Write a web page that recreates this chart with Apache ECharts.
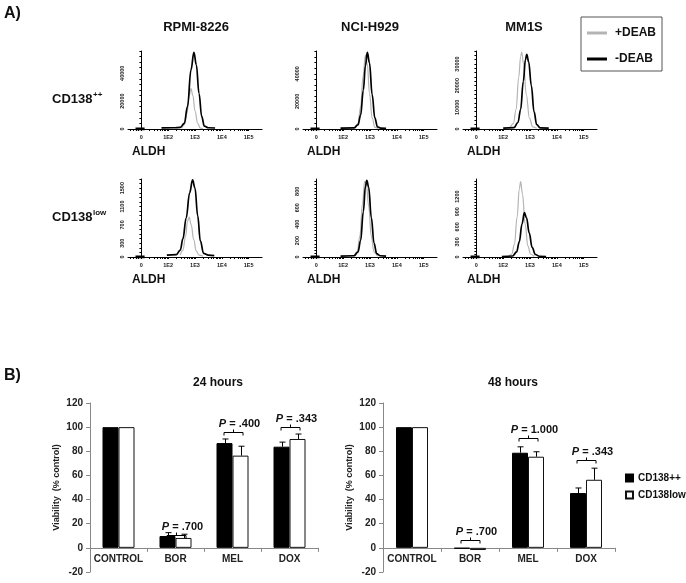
<!DOCTYPE html>
<html><head><meta charset="utf-8">
<script src="https://cdn.jsdelivr.net/npm/echarts@6/dist/echarts.min.js"></script>
<style>html,body{margin:0;padding:0;background:#fff}#c{width:686px;height:583px}</style>
</head><body><div id="c"></div>
<script>
// ---------------- Part A: ALDH histograms ----------------
const cellLines = ['RPMI-8226', 'NCI-H929', 'MM1S'];
const rowLabels = ['CD138', 'CD138'];
const rowSup = ['++', 'low'];
const xTickLabels = ['0', '1E2', '1E3', '1E4', '1E5'];   // positions 0..4 on display scale
const zeroBlip = [[-0.22, 0], [0.12, 0]];

// y tick labels per panel
const yTicks1 = [0, 20000, 40000];
const yTicks2 = [0, 20000, 40000];
const yTicks3 = [0, 10000, 20000, 30000];
const yTicks4 = [0, 300, 700, 1100, 1500];
const yTicks5 = [0, 200, 400, 600, 800];
const yTicks6 = [0, 300, 600, 900, 1200];
const yMax = [56000, 56500, 36000, 1700, 950, 1550];
const yMinorStep = [4000, 4000, 2000, 100, 40, 60];

// curves: [display position, count]; gray = +DEAB, black = -DEAB
const p1Gray = [[1.5,500],[1.6,3000],[1.7,11000],[1.78,24000],[1.85,29000],[1.92,24000],[2.0,13000],[2.1,4000],[2.2,600],[2.3,200]];
const p1Black = [[0.75,800],[1.2,900],[1.45,1200],[1.6,4000],[1.72,16000],[1.85,42500],[1.96,55000],[2.05,46000],[2.15,25500],[2.25,9000],[2.35,2000],[2.5,900],[2.75,700]];
const p2Gray = [[1.45,600],[1.55,4000],[1.65,16000],[1.74,38000],[1.83,53500],[1.9,47000],[1.98,26000],[2.08,8000],[2.18,1200],[2.3,300]];
const p2Black = [[0.9,600],[1.4,800],[1.55,3000],[1.65,10000],[1.75,28000],[1.83,46000],[1.9,55500],[1.98,48000],[2.08,25000],[2.18,8000],[2.28,1500],[2.4,700],[2.6,500]];
const p3Gray = [[1.25,400],[1.38,2500],[1.48,9000],[1.58,24000],[1.65,33500],[1.69,35500],[1.76,30000],[1.86,16000],[1.98,5000],[2.1,1000],[2.25,300]];
const p3Black = [[1.0,400],[1.4,600],[1.55,3000],[1.65,9000],[1.75,22000],[1.83,32000],[1.88,34500],[1.95,31000],[2.05,20000],[2.15,8000],[2.25,2000],[2.38,500],[2.7,400]];
const p4Gray = [[1.45,40],[1.55,150],[1.65,450],[1.72,780],[1.78,870],[1.86,700],[1.95,380],[2.05,130],[2.15,40],[2.3,20]];
const p4Black = [[0.95,40],[1.3,50],[1.45,150],[1.55,400],[1.67,850],[1.8,1400],[1.91,1680],[2.0,1500],[2.1,900],[2.2,350],[2.32,80],[2.5,40],[2.72,30]];
const p5Gray = [[1.4,10],[1.52,60],[1.62,250],[1.72,650],[1.8,920],[1.86,900],[1.95,620],[2.05,250],[2.15,60],[2.28,10]];
const p5Black = [[0.9,10],[1.4,15],[1.55,60],[1.65,200],[1.75,550],[1.83,860],[1.88,935],[1.95,850],[2.05,480],[2.15,170],[2.25,40],[2.38,15],[2.6,10]];
const p6Gray = [[1.2,10],[1.32,60],[1.42,250],[1.52,800],[1.6,1350],[1.65,1500],[1.72,1250],[1.82,650],[1.92,220],[2.02,60],[2.15,10]];
const p6Black = [[0.95,10],[1.35,20],[1.5,100],[1.6,300],[1.7,650],[1.79,880],[1.87,780],[1.97,480],[2.08,190],[2.2,50],[2.35,15],[2.6,10]];

// ---------------- Part B: viability bars ----------------
const cats = ['CONTROL', 'BOR', 'MEL', 'DOX'];
const hi24 = [100, 9.8, 86.8, 83.8];
const hi24Err = [0, 2.8, 3.4, 3.8];
const lo24 = [100, 8.2, 76.4, 90.2];
const lo24Err = [0, 3.1, 7.8, 4.1];
const hi48 = [100, -0.6, 78.8, 45.4];
const hi48Err = [0, 0, 4.9, 4.2];
const lo48 = [100, -1.8, 75.5, 56.4];
const lo48Err = [0, 0, 4.1, 9.6];
const pText24 = ['', '.700', '.400', '.343'];
const pLevel24 = [null, 10.4, 95.9, 100.5];
const pText48 = ['', '.700', '1.000', '.343'];
const pLevel48 = [null, 6.9, 90.9, 73];
const chartTitles = ['24 hours', '48 hours'];
const yBarMin = -20, yBarMax = 120;

// ---------------- build ----------------
const FONT = 'Arial, "Liberation Sans", sans-serif';
const grays = [p1Gray, p2Gray, p3Gray, p4Gray, p5Gray, p6Gray];
const blacks = [p1Black, p2Black, p3Black, p4Black, p5Black, p6Black];
const yTicks = [yTicks1, yTicks2, yTicks3, yTicks4, yTicks5, yTicks6];
const pLeft = [128, 303, 463, 128, 303, 463];
const pTop = [51, 51, 51, 179, 179, 179];

const minorX = [];
[-0.4, -0.3, -0.2, -0.1, 0, 1, 2, 3, 4].forEach(function (v) { minorX.push(v); });
for (let d = 0; d < 4; d++) for (let k = 2; k <= 9; k++) minorX.push(d + Math.log10(k));

const grid = [], xAxis = [], yAxis = [], series = [];
for (let i = 0; i < 6; i++) {
  grid.push({ left: pLeft[i], top: pTop[i], width: 134, height: 78 });
  xAxis.push({
    type: 'value', gridIndex: i, min: -0.5, max: 4.5,
    axisLine: { show: true, onZero: false, lineStyle: { color: '#000', width: 1 } },
    axisTick: { show: true, length: 2, customValues: minorX, lineStyle: { color: '#000' } },
    axisLabel: { customValues: [0, 1, 2, 3, 4], formatter: function (v) { return xTickLabels[Math.round(v)]; },
      fontSize: 5.5, fontWeight: 'bold', color: '#222', margin: 5, fontFamily: FONT },
    splitLine: { show: false }
  });
  const dense = [];
  for (let v = 0; v <= yMax[i] + 1e-9; v += yMinorStep[i]) dense.push(v);
  yAxis.push({
    type: 'value', gridIndex: i, min: 0, max: yMax[i],
    axisLine: { show: true, lineStyle: { color: '#000', width: 1 } },
    axisTick: { show: true, length: 2, customValues: dense, lineStyle: { color: '#000' } },
    axisLabel: { customValues: yTicks[i], formatter: function (v) { return String(v); }, rotate: 90,
      fontSize: 5.5, fontWeight: 'bold', color: '#222', margin: 3, fontFamily: FONT },
    splitLine: { show: false }
  });
  series.push({ type: 'line', name: '+DEAB', xAxisIndex: i, yAxisIndex: i, data: grays[i], smooth: 0.4,
    smoothMonotone: 'x', showSymbol: false, color: '#b4b4b4', lineStyle: { width: 1.2, color: '#b4b4b4' }, z: 3, silent: true });
  series.push({ type: 'line', name: '-DEAB', xAxisIndex: i, yAxisIndex: i, data: blacks[i], smooth: 0.4,
    smoothMonotone: 'x', showSymbol: false, color: '#000', lineStyle: { width: 1.7, color: '#000' }, z: 4, silent: true });
  series.push({ type: 'line', xAxisIndex: i, yAxisIndex: i, data: zeroBlip, showSymbol: false,
    lineStyle: { width: 3, color: '#000' }, z: 5, silent: true });
}

const barGrids = [{ left: 90, top: 403, width: 228, height: 169 }, { left: 383, top: 403, width: 232, height: 169 }];
const barSets = [
  { hi: hi24, hiE: hi24Err, lo: lo24, loE: lo24Err, pt: pText24, pl: pLevel24 },
  { hi: hi48, hiE: hi48Err, lo: lo48, loE: lo48Err, pt: pText48, pl: pLevel48 }
];

function errSeries(ax, vals, errs, off) {
  return {
    type: 'custom', xAxisIndex: ax, yAxisIndex: ax, z: 6, silent: true,
    data: vals.map(function (v, i) { return [i, v, errs[i]]; }),
    renderItem: function (params, api) {
      const i = api.value(0), v = api.value(1), e = api.value(2);
      if (!e) return null;
      const p0 = api.coord([i, v]), p1 = api.coord([i, v + e]);
      const x = Math.round(p0[0] + off) + 0.5;
      return { type: 'group', children: [
        { type: 'line', shape: { x1: x, y1: p0[1], x2: x, y2: p1[1] }, style: { stroke: '#000', lineWidth: 1 } },
        { type: 'line', shape: { x1: x - 3, y1: p1[1], x2: x + 3, y2: p1[1] }, style: { stroke: '#000', lineWidth: 1 } }
      ] };
    }
  };
}

function bracketSeries(ax, texts, levels) {
  const d = [];
  texts.forEach(function (t, i) { if (t) d.push([i, levels[i]]); });
  const tx = texts.filter(function (t) { return t; });
  return {
    type: 'custom', xAxisIndex: ax, yAxisIndex: ax, z: 7, silent: true, data: d,
    renderItem: function (params, api) {
      const p = api.coord([api.value(0), api.value(1)]);
      const cx = Math.round(p[0]) + 0.5, y = Math.round(p[1]) + 0.5;
      return { type: 'group', children: [
        { type: 'polyline', shape: { points: [[cx - 9.5, y + 3], [cx - 9.5, y], [cx + 9.5, y], [cx + 9.5, y + 3]] },
          style: { stroke: '#000', lineWidth: 1, fill: null } },
        { type: 'line', shape: { x1: cx, y1: y, x2: cx, y2: y - 3 }, style: { stroke: '#000', lineWidth: 1 } },
        { type: 'text', x: cx + 6, y: y - 3.5, style: {
            text: '{i|P} = ' + tx[params.dataIndex], fill: '#111', fontSize: 11, fontWeight: 'bold', fontFamily: FONT,
            align: 'center', verticalAlign: 'bottom',
            rich: { i: { fontStyle: 'italic', fontWeight: 'bold', fontSize: 11, fontFamily: FONT, fill: '#111' } } } }
      ] };
    }
  };
}

for (let b = 0; b < 2; b++) {
  const gi = 6 + b;
  grid.push(barGrids[b]);
  // category axis sits on the zero line: offset from grid bottom by the -20..0 span
  const zeroOffset = -barGrids[b].height * (0 - yBarMin) / (yBarMax - yBarMin);
  xAxis.push({
    type: 'category', gridIndex: gi, data: cats, position: 'bottom', offset: zeroOffset,
    axisLine: { show: true, onZero: false, lineStyle: { color: '#888', width: 1 } },
    axisTick: { show: true, length: 4, lineStyle: { color: '#888' } },
    axisLabel: { interval: 0, fontSize: 10, fontWeight: 'bold', color: '#222', margin: 6, fontFamily: FONT },
    splitLine: { show: false }
  });
  yAxis.push({
    type: 'value', gridIndex: gi, min: yBarMin, max: yBarMax, interval: 20,
    name: 'Viability  (% control)', nameLocation: 'middle', nameGap: 29,
    nameTextStyle: { fontSize: 9, fontWeight: 'bold', color: '#222', fontFamily: FONT },
    axisLine: { show: true, lineStyle: { color: '#888', width: 1 } },
    axisTick: { show: true, length: 4, lineStyle: { color: '#888' } },
    axisLabel: { fontSize: 10, fontWeight: 'bold', color: '#222', margin: 7, fontFamily: FONT },
    splitLine: { show: false }
  });
  const s = barSets[b];
  series.push({ type: 'bar', name: 'CD138++', xAxisIndex: gi, yAxisIndex: gi, data: s.hi, barWidth: 16, barGap: '0%',
    itemStyle: { color: '#000', borderColor: '#000', borderWidth: 1 }, silent: true });
  series.push({ type: 'bar', name: 'CD138low', xAxisIndex: gi, yAxisIndex: gi, data: s.lo, barWidth: 16, barGap: '0%',
    itemStyle: { color: '#fff', borderColor: '#111', borderWidth: 1 }, silent: true });
  series.push(errSeries(gi, s.hi, s.hiE, -8));
  series.push(errSeries(gi, s.lo, s.loE, 8));
  series.push(bracketSeries(gi, s.pt, s.pl));
}

const graphic = [
  { type: 'text', x: 4, y: 6, style: { text: 'A)', font: 'bold 16px ' + FONT, fill: '#111' } },
  { type: 'text', x: 4, y: 368, style: { text: 'B)', font: 'bold 16px ' + FONT, fill: '#111' } }
];
const titleX = [196, 370, 524];
cellLines.forEach(function (t, i) {
  graphic.push({ type: 'text', x: titleX[i], y: 27, style: { text: t, font: 'bold 13px ' + FONT, fill: '#111', textAlign: 'center', textVerticalAlign: 'middle' } });
});
const rowY = [99, 217];
for (let r = 0; r < 2; r++) {
  graphic.push({ type: 'text', x: 52, y: rowY[r], style: { text: rowLabels[r], font: 'bold 13px ' + FONT, fill: '#111', textVerticalAlign: 'middle' } });
  graphic.push({ type: 'text', x: 93, y: rowY[r] - 4, style: { text: rowSup[r], font: 'bold 8px ' + FONT, fill: '#111', textVerticalAlign: 'middle' } });
  for (let c = 0; c < 3; c++) {
    graphic.push({ type: 'text', x: pLeft[c] + 4, y: (r === 0 ? 152 : 280), style: { text: 'ALDH', font: 'bold 12px ' + FONT, fill: '#111', textVerticalAlign: 'middle' } });
  }
}
const btX = [218, 513];
chartTitles.forEach(function (t, i) {
  graphic.push({ type: 'text', x: btX[i], y: 383, style: { text: t, font: 'bold 12px ' + FONT, fill: '#111', textAlign: 'center', textVerticalAlign: 'middle' } });
});

const chart = echarts.init(document.getElementById('c'), null, { renderer: 'canvas' });
chart.setOption({
  animation: false,
  backgroundColor: '#fff',
  grid: grid, xAxis: xAxis, yAxis: yAxis, series: series, graphic: graphic,
  legend: [
    { data: ['+DEAB', '-DEAB'], orient: 'vertical', left: 581, top: 17, width: 80,
      borderColor: '#555', borderWidth: 1, padding: [10, 6, 6, 6], itemGap: 14,
      icon: 'rect', itemWidth: 20, itemHeight: 3, selectedMode: false,
      textStyle: { fontSize: 12, fontWeight: 'bold', color: '#111', fontFamily: FONT, padding: [0, 0, 0, 3] } },
    { data: ['CD138++', 'CD138low'], orient: 'vertical', left: 625, top: 473, padding: 0,
      icon: 'rect', itemWidth: 7, itemHeight: 7, itemGap: 7, selectedMode: false,
      textStyle: { fontSize: 10, fontWeight: 'bold', color: '#111', fontFamily: FONT } }
  ]
});
</script></body></html>
